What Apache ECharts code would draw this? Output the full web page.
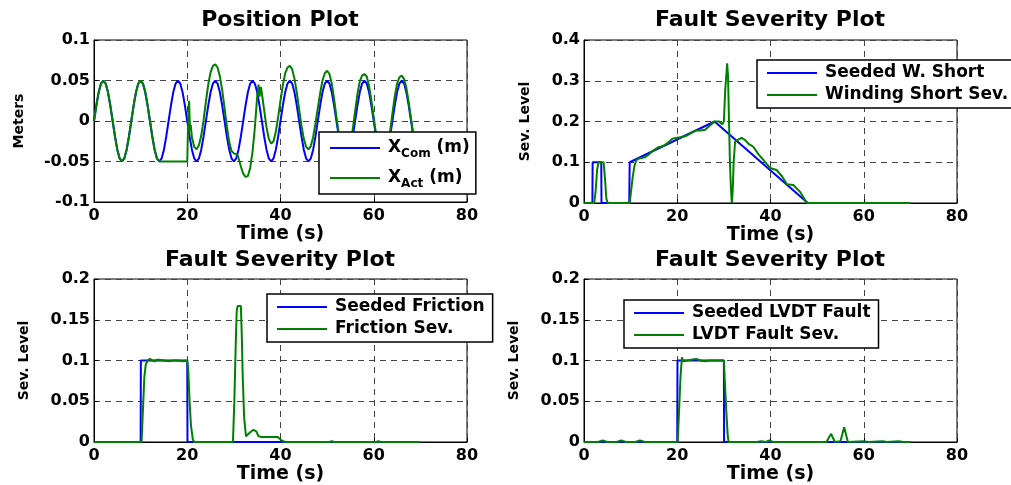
<!DOCTYPE html>
<html>
<head>
<meta charset="utf-8">
<script src="https://cdn.jsdelivr.net/npm/echarts@6/dist/echarts.min.js"></script>
<style>
html,body{margin:0;padding:0;background:#fff;}
#chart{width:1011px;height:485px;}
</style>
</head>
<body>
<div id="chart"></div>
<script>
// ---------- Data ----------
const xTicks = [0, 20, 40, 60, 80];

// Position plot: commanded position (sampled every 0.5 s from 0 to 70 s)
const comStep = 0.5;
const comVals = [
  0, .0191, .0354, .0462, .05, .0462, .0354, .0191, 0, -.0191, -.0354, -.0462, -.05, -.0462, -.0354, -.0191,
  0, .0191, .0354, .0462, .05, .0462, .0354, .0191, 0, -.0191, -.0354, -.0462, -.05, -.0462, -.0354, -.0191,
  0, .0191, .0354, .0462, .05, .0462, .0354, .0191, 0, -.0191, -.0354, -.0462, -.05, -.0462, -.0354, -.0191,
  0, .0191, .0354, .0462, .05, .0462, .0354, .0191, 0, -.0191, -.0354, -.0462, -.05, -.0462, -.0354, -.0191,
  0, .0191, .0354, .0462, .05, .0462, .0354, .0191, 0, -.0191, -.0354, -.0462, -.05, -.0462, -.0354, -.0191,
  0, .0191, .0354, .0462, .05, .0462, .0354, .0191, 0, -.0191, -.0354, -.0462, -.05, -.0462, -.0354, -.0191,
  0, .0191, .0354, .0462, .05, .0462, .0354, .0191, 0, -.0191, -.0354, -.0462, -.05, -.0462, -.0354, -.0191,
  0, .0191, .0354, .0462, .05, .0462, .0354, .0191, 0, -.0191, -.0354, -.0462, -.05, -.0462, -.0354, -.0191,
  0, .0191, .0354, .0462, .05, .0462, .0354, .0191, 0, -.0191, -.0354, -.0462, -.05
];

// Position plot: actual position
const actTime = [
  0, .5, 1, 1.5, 2, 2.5, 3, 3.5, 4, 4.5, 5, 5.5, 6, 6.5, 7, 7.5, 8, 8.5, 9, 9.5, 10, 10.5, 11, 11.5, 12, 12.5, 13, 13.5, 14,
  15, 16, 17, 18, 19, 20, 20.1, 20.25, 20.4, 20.5, 20.6, 20.75, 21, 21.5, 22, 22.5, 23, 23.5, 24, 24.5, 25, 25.5, 26, 26.5,
  27, 27.5, 28, 28.5, 29, 29.5, 30, 30.4, 30.8, 31.2, 31.6, 32, 32.5, 33, 33.5, 34, 34.5, 35, 35.3, 35.5, 35.8, 36.1, 36.5,
  37, 37.5, 38, 38.5, 39, 39.5, 40, 40.5, 41, 41.5, 42, 42.5, 43, 43.5, 44, 44.5, 45, 45.5, 46, 46.5, 47, 47.5, 48, 48.5,
  49, 49.5, 50, 50.5, 51, 51.5, 52, 52.5, 53, 53.5, 54, 54.5, 55, 55.5, 56, 56.5, 57, 57.5, 58, 58.5, 59, 59.5, 60, 60.5,
  61, 61.5, 62, 62.5, 63, 63.5, 64, 64.5, 65, 65.5, 66, 66.5, 67, 67.5, 68, 68.5, 69, 69.5, 70
];
const actVals = [
  0, .0191, .0354, .0462, .05, .0462, .0354, .0191, 0, -.0191, -.0354, -.0462, -.05, -.0462, -.0354, -.0191, 0, .0191, .0354, .0462, .05, .0462, .0354, .0191, 0, -.0191, -.0354, -.0462, -.05,
  -.05, -.05, -.05, -.05, -.05, -.05, -.05, .012, .025, .005, -.012, -.005, -.02, -.032, -.035, -.03, -.018, .001, .024, .045, .06, .068, .07, .066,
  .055, .038, .016, -.007, -.026, -.037, -.04, -.038, -.042, -.05, -.058, -.065, -.069, -.068, -.058, -.038, -.008, .03, .045, .03, .042, .03, .013,
  -.008, -.022, -.028, -.025, -.013, .005, .025, .044, .059, .066, .068, .064, .052, .035, .014, -.006, -.022, -.032, -.035, -.031, -.02, -.003, .016, .034,
  .05, .059, .062, .058, .046, .027, .005, -.016, -.032, -.041, -.044, -.04, -.028, -.01, .012, .033, .049, .056, .058, .055, .043, .025, .004, -.017,
  -.033, -.043, -.046, -.042, -.031, -.013, .009, .03, .046, .054, .056, .052, .041, .023, .003, -.017, -.033, -.043, -.046
];

// Winding short
const wsSeedTime = [0, 1.8, 1.85, 3.7, 3.75, 9.7, 9.8, 28, 48, 70];
const wsSeedVals = [0, 0, .1, .1, 0, 0, .1, .2, 0, 0];
const wsSevTime = [0, 2.2, 2.5, 2.8, 3.1, 4.2, 4.5, 4.8, 5.1, 9.8, 10.1, 10.4, 10.8, 11.2, 12, 13, 14, 15, 16, 17, 18, 19, 20, 21, 22, 23, 24, 25, 26, 27, 28, 29, 29.6,
  30, 30.3, 30.5, 30.7, 30.9, 31.1, 31.3, 31.5, 31.7, 31.9, 32.1, 32.4, 33, 33.8, 34.5, 35.3, 36.3, 37.4, 38.5, 39.9, 41.3, 42.5, 43.5, 44.9, 46.3, 47.8, 70];
const wsSevVals = [0, 0, .03, .08, .1, .1, .06, .01, 0, 0, .03, .06, .09, .105, .11, .112, .12, .13, .137, .14, .148, .158, .16, .162, .165, .172, .178, .178, .18, .19, .2, .2, .193,
  .2, .28, .31, .343, .31, .2, .1, .04, 0, .03, .1, .15, .155, .16, .155, .145, .138, .12, .105, .086, .081, .065, .046, .044, .028, 0, 0];

// Friction
const frSeedTime = [0, 10, 10.05, 20, 20.05, 70];
const frSeedVals = [0, 0, .1, .1, 0, 0];
const frSevTime = [0, 10.2, 10.5, 10.8, 11.1, 11.5, 12, 12.5, 13, 13.5, 14, 15, 16, 17, 18, 19, 20, 20.2, 20.5, 20.8, 21.2, 21.5, 29.8, 30.1, 30.4, 30.6, 30.8, 31.5,
  31.7, 31.9, 32.2, 32.6, 33, 33.5, 34.2, 34.8, 35.3, 36, 39.4, 40.2, 41, 50.5, 51, 51.5, 60.5, 61, 61.5, 70];
const frSevVals = [0, 0, .04, .08, .095, .1, .102, .1, .099, .101, .101, .1, .099, .1, .1, .099, .1, .09, .05, .02, .003, 0, 0, .05, .12, .16, .167, .167,
  .13, .08, .03, .007, .005, .012, .015, .013, .007, .006, .006, .002, 0, 0, .001, 0, 0, .001, 0, 0];

// LVDT fault
const lvSeedTime = [0, 20, 20.05, 30, 30.05, 70];
const lvSeedVals = [0, 0, .1, .1, 0, 0];
const lvSevTime = [0, 3, 4, 5, 7, 8, 9, 11, 12, 13, 20.1, 20.4, 20.7, 21, 21.3, 22, 23, 24, 25, 26, 27, 28, 29, 30, 30.2, 30.5, 30.8, 31,
  37, 38, 39, 39.8, 40.5, 52, 53, 53.8, 55, 55.8, 56.6, 60, 61, 64, 65, 67.5, 68.5, 70];
const lvSevVals = [0, 0, .002, 0, 0, .002, 0, 0, .002, 0, 0, .04, .08, .104, .099, .1, .101, .102, .1, .099, .1, .1, .1, .1, .075, .04, .01, 0,
  0, .001, 0, .002, 0, 0, .01, 0, .001, .018, 0, .001, 0, .001, 0, .001, 0, 0];

// ---------- Helpers ----------
const pairs = (t, v) => t.map((x, i) => [x, v[i]]);
const comPairs = comVals.map((v, i) => [i * comStep, v]);

const FONT = 'DejaVu Sans';
const BLUE = '#0000ff', GREEN = '#008000';

const grids = [
  {left: 94, top: 40, width: 373, height: 162},
  {left: 584, top: 40, width: 373, height: 163},
  {left: 94, top: 279, width: 373, height: 163},
  {left: 584, top: 279, width: 373, height: 163}
].map(g => Object.assign(g, {show: true, borderColor: '#000', borderWidth: 1, backgroundColor: '#fff'}));

const gridLine = {show: true, lineStyle: {color: '#444', type: [6, 5], width: 1}};
const tickLabel = {color: '#000', fontFamily: FONT, fontWeight: 'bold', fontSize: 16};

const xAxes = [0, 1, 2, 3].map(i => ({
  type: 'value', gridIndex: i, min: xTicks[0], max: xTicks[xTicks.length - 1], interval: 20,
  name: 'Time (s)', nameLocation: 'middle', nameGap: 23,
  nameTextStyle: {color: '#000', fontFamily: FONT, fontWeight: 'bold', fontSize: 19},
  axisLine: {show: true, onZero: false, lineStyle: {color: '#000', width: 1}},
  axisTick: {show: true, inside: true, length: 4, lineStyle: {color: '#000'}},
  axisLabel: Object.assign({margin: 6}, tickLabel),
  splitLine: gridLine
}));

const yCfg = [
  {min: -0.1, max: 0.1, interval: 0.05, name: 'Meters', gap: 68},
  {min: 0, max: 0.4, interval: 0.1, name: 'Sev. Level', gap: 52},
  {min: 0, max: 0.2, interval: 0.05, name: 'Sev. Level', gap: 63},
  {min: 0, max: 0.2, interval: 0.05, name: 'Sev. Level', gap: 63}
];
const yAxes = yCfg.map((c, i) => ({
  type: 'value', gridIndex: i, min: c.min, max: c.max, interval: c.interval,
  name: c.name, nameLocation: 'middle', nameGap: c.gap, nameRotate: 90,
  nameTextStyle: {color: '#000', fontFamily: FONT, fontWeight: 'bold', fontSize: 14},
  axisLine: {show: true, onZero: false, lineStyle: {color: '#000', width: 1}},
  axisTick: {show: true, inside: true, length: 4, lineStyle: {color: '#000'}},
  axisLabel: Object.assign({margin: 4}, tickLabel),
  splitLine: gridLine
}));

const titleStyle = {color: '#000', fontFamily: FONT, fontWeight: 'bold', fontSize: 22};
const titles = [
  {text: 'Position Plot', left: 280, top: 9},
  {text: 'Fault Severity Plot', left: 770, top: 9},
  {text: 'Fault Severity Plot', left: 280, top: 249},
  {text: 'Fault Severity Plot', left: 770, top: 249}
].map(t => Object.assign(t, {textAlign: 'center', padding: 0, textStyle: titleStyle}));

const line = (name, data, color, idx) => ({
  name, type: 'line', xAxisIndex: idx, yAxisIndex: idx, data,
  symbol: 'none', showSymbol: false, animation: false,
  lineStyle: {color, width: 2}, itemStyle: {color}
});

const series = [
  line('XCom', comPairs, BLUE, 0),
  line('XAct', pairs(actTime, actVals), GREEN, 0),
  line('Seeded W. Short', pairs(wsSeedTime, wsSeedVals), BLUE, 1),
  line('Winding Short Sev.', pairs(wsSevTime, wsSevVals), GREEN, 1),
  line('Seeded Friction', pairs(frSeedTime, frSeedVals), BLUE, 2),
  line('Friction Sev.', pairs(frSevTime, frSevVals), GREEN, 2),
  line('Seeded LVDT Fault', pairs(lvSeedTime, lvSeedVals), BLUE, 3),
  line('LVDT Fault Sev.', pairs(lvSevTime, lvSevVals), GREEN, 3)
];

const legText = {color: '#000', fontFamily: FONT, fontWeight: 'bold', fontSize: 17, lineHeight: 22, padding: [0, 0, 0, 3],
  rich: {
    b: {color: '#000', fontFamily: FONT, fontWeight: 'bold', fontSize: 17, lineHeight: 22},
    s: {color: '#000', fontFamily: FONT, fontWeight: 'bold', fontSize: 12, lineHeight: 22, padding: [12, 0, 0, 0]}
  }};
const legBase = {orient: 'vertical', icon: 'rect', itemWidth: 50, itemHeight: 2, backgroundColor: '#fff',
  borderColor: '#000', borderWidth: 1.5, borderRadius: 0, textStyle: legText, selectedMode: false};
const legends = [
  {data: ['XCom', 'XAct'], left: 319, top: 132, itemGap: 6, padding: [4, 6, 4, 11],
   formatter: n => n === 'XCom' ? '{b|X}{s|Com}{b| (m)}' : '{b|X}{s|Act}{b| (m)}'},
  {data: ['Seeded W. Short', 'Winding Short Sev.'], left: 757, top: 60, itemGap: 0, padding: [2, 8, 2, 10]},
  {data: ['Seeded Friction', 'Friction Sev.'], left: 267, top: 294, itemGap: 0, padding: [2, 8, 2, 10]},
  {data: ['Seeded LVDT Fault', 'LVDT Fault Sev.'], left: 624, top: 300, itemGap: 0, padding: [2, 8, 2, 10]}
].map(l => Object.assign({}, legBase, l));

const chart = echarts.init(document.getElementById('chart'));
chart.setOption({
  animation: false,
  backgroundColor: '#fff',
  title: titles,
  legend: legends,
  grid: grids,
  xAxis: xAxes,
  yAxis: yAxes,
  series
});
</script>
</body>
</html>
